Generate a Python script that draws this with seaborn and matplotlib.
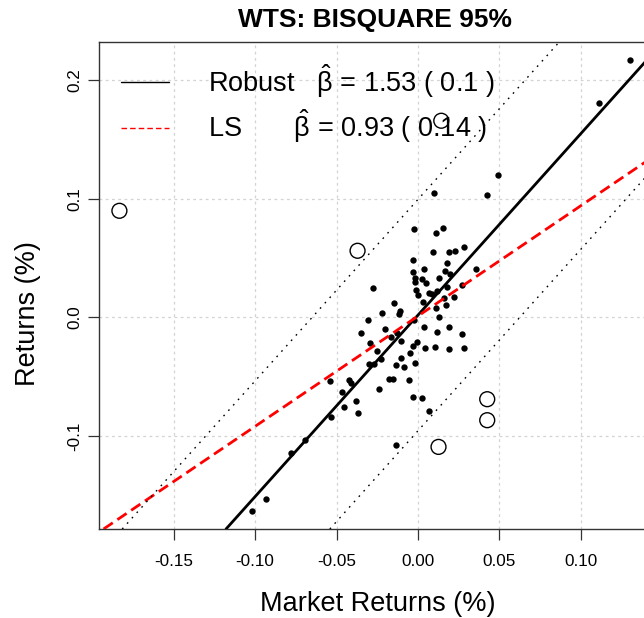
import matplotlib
matplotlib.use("Agg")
import matplotlib.pyplot as plt
import numpy as np
import pandas as pd
import seaborn as sns
from matplotlib.lines import Line2D

# Monthly returns: market (x) vs. stock (y), points kept by the bisquare fit
market_ret = [0.1302, 0.1112, 0.0494, 0.0423, 0.0098, -0.0025, 0.0112, 0.0155,
              0.0092, 0.0192, 0.0225, 0.0284, -0.0031, 0.0039, -0.0033, -0.0017,
              -0.0021, 0.0022, 0.0047, 0.0126, 0.0163, 0.0178, 0.0196, -0.0276,
              0.0358, 0.0270, 0.0178, -0.0010, 0.0000, 0.0069, 0.0086, 0.0117,
              0.0161, 0.0223, 0.0028, -0.0148, -0.0113, -0.0119, 0.0112, 0.0172,
              0.0126, -0.0025, -0.0127, 0.0037, 0.0117, 0.0188, 0.0270, -0.0167,
              -0.0102, -0.0029, -0.0006, 0.0040, 0.0102, 0.0192, 0.0284, -0.0221,
              -0.0305, -0.0205, -0.0348, -0.0293, -0.0250, -0.0052, -0.0017, -0.0106,
              -0.0135, -0.0088, -0.0299, -0.0272, -0.0225, -0.0538, -0.0426, -0.0411,
              -0.0466, -0.0242, -0.0180, -0.0156, -0.0053, -0.0452, -0.0379, -0.0371,
              -0.0532, -0.0032, 0.0026, 0.0069, -0.0133, -0.0696, -0.0777, -0.0933,
              -0.1018]
stock_ret = [0.2172, 0.1809, 0.1200, 0.1034, 0.1045, 0.0745, 0.0716, 0.0753,
             0.0551, 0.0551, 0.0559, 0.0598, 0.0488, 0.0410, 0.0382, 0.0336,
             0.0300, 0.0323, 0.0289, 0.0331, 0.0390, 0.0460, 0.0365, 0.0252,
             0.0407, 0.0272, 0.0254, 0.0233, 0.0191, 0.0202, 0.0196, 0.0224,
             0.0161, 0.0169, 0.0134, 0.0121, 0.0056, 0.0030, 0.0078, 0.0106,
             0.0005, -0.0020, -0.0127, -0.0081, -0.0119, -0.0077, -0.0138, -0.0166,
             -0.0197, -0.0242, -0.0203, -0.0254, -0.0245, -0.0265, -0.0254, 0.0035,
             -0.0020, -0.0094, -0.0130, -0.0212, -0.0279, -0.0303, -0.0383, -0.0343,
             -0.0401, -0.0414, -0.0394, -0.0394, -0.0352, -0.0535, -0.0526, -0.0549,
             -0.0632, -0.0602, -0.0520, -0.0520, -0.0529, -0.0751, -0.0703, -0.0807,
             -0.0838, -0.0669, -0.0680, -0.0788, -0.1076, -0.1035, -0.1144, -0.1532,
             -0.1631]

# Observations rejected by the 95% bisquare weights
outlier_market = [-0.1833, -0.0371, 0.0143, 0.0425, 0.0425, 0.0126]
outlier_stock = [0.0899, 0.0562, 0.1658, -0.0689, -0.0866, -0.1091]

# Fitted lines
robust_beta, robust_se, robust_alpha = 1.53, 0.1, 0.002
ls_beta, ls_se, ls_alpha = 0.93, 0.14, 0.0012
band_halfwidth = 0.0975

x_ticks = [-0.15, -0.10, -0.05, 0.00, 0.05, 0.10]
x_tick_labels = ["-0.15", "-0.10", "-0.05", "0.00", "0.05", "0.10"]
y_ticks = [-0.1, 0.0, 0.1, 0.2]
y_tick_labels = ["-0.1", "0.0", "0.1", "0.2"]

title = "WTS: BISQUARE 95%"
x_label = "Market Returns (%)"
y_label = "Returns (%)"

sns.set_style("white")
plt.rcParams["font.family"] = ["Liberation Sans", "DejaVu Sans"]
plt.rcParams["mathtext.fontset"] = "custom"
plt.rcParams["mathtext.rm"] = "Liberation Sans"
plt.rcParams["mathtext.it"] = "Liberation Sans:italic"
plt.rcParams["mathtext.bf"] = "Liberation Sans:bold"
plt.rcParams["lines.scale_dashes"] = False
plt.rcParams["text.color"] = "black"
plt.rcParams["axes.labelcolor"] = "black"
plt.rcParams["xtick.color"] = "black"
plt.rcParams["ytick.color"] = "black"

kept = pd.DataFrame({"market": market_ret, "stock": stock_ret})
dropped = pd.DataFrame({"market": outlier_market, "stock": outlier_stock})

fig = plt.figure(figsize=(6.44, 6.18), dpi=100)
ax = fig.add_axes([0.1537, 0.1440, 0.8564, 0.7885])

# R-style 4% padding around the full data range
all_x = np.concatenate([kept["market"], dropped["market"]])
all_y = np.concatenate([kept["stock"], dropped["stock"]])
px = 0.04 * (all_x.max() - all_x.min())
py = 0.04 * (all_y.max() - all_y.min())
ax.set_xlim(all_x.min() - px, all_x.max() + px)
ax.set_ylim(all_y.min() - py, all_y.max() + py)

ax.set_xticks(x_ticks)
ax.set_xticklabels(x_tick_labels)
ax.set_yticks(y_ticks)
ax.set_yticklabels(y_tick_labels)
ax.grid(True, color="#D3D3D3", linestyle=(0, (2, 2.5)), linewidth=0.9)
ax.set_axisbelow(True)

sns.scatterplot(data=kept, x="market", y="stock", ax=ax, color="black",
                s=21, linewidth=0, zorder=3)
sns.scatterplot(data=dropped, x="market", y="stock", ax=ax, marker="o",
                s=115, facecolor="none", edgecolor="black", linewidth=1.0,
                zorder=3)

ax.axline((0, robust_alpha), slope=robust_beta, color="black", lw=2.0, zorder=4)
ax.axline((0, ls_alpha), slope=ls_beta, color="red", lw=2.0,
          linestyle=(0, (8, 4)), zorder=4)
for off in (band_halfwidth, -band_halfwidth):
    ax.axline((0, robust_alpha + off), slope=robust_beta, color="black",
              lw=1.0, linestyle=(0, (1.2, 4.0)), zorder=4)

for side in ["left", "bottom", "top", "right"]:
    ax.spines[side].set_color("#333333")
    ax.spines[side].set_linewidth(1.0)
ax.tick_params(axis="both", which="both", direction="out", length=7.7,
               width=0.9, color="#333333", labelcolor="black", labelsize=12.3,
               bottom=True, left=True)
ax.tick_params(axis="x", pad=10)
ax.tick_params(axis="y", pad=4.5)
for lab in ax.get_yticklabels():
    lab.set_rotation(90)
    lab.set_va("center")
    lab.set_ha("right")

ax.set_xlabel(x_label, fontsize=19.5, color="black")
ax.set_ylabel(y_label, fontsize=19.5, color="black")
ax.xaxis.label.set_va("center")
ax.yaxis.label.set_va("center")
ax.xaxis.set_label_coords(0.506, -0.154)
ax.yaxis.set_label_coords(-0.1296, 0.443)

fig.text(0.5819, 1 - 20 / 618, title, fontsize=19, fontweight="bold",
         ha="center", va="center", color="black")

handles = [Line2D([], [], color="black", lw=1.0),
           Line2D([], [], color="red", lw=1.0, linestyle=(0, (4, 2.2)))]
labels = [f"Robust   $\\hat{{\\mathrm{{\\beta}}}}$ = {robust_beta:.2f} ( {robust_se:g} )",
          f"LS       $\\hat{{\\mathrm{{\\beta}}}}$ = {ls_beta:.2f} ( {ls_se:g} )"]
leg = ax.legend(handles, labels, loc="upper left", bbox_to_anchor=(0.04, 0.958),
                frameon=False, fontsize=19.5, handlelength=1.77, handletextpad=1.44,
                labelspacing=0.3, borderaxespad=0, borderpad=0)
for t in leg.get_texts():
    t.set_color("black")

fig.savefig("out.png", dpi=100)
